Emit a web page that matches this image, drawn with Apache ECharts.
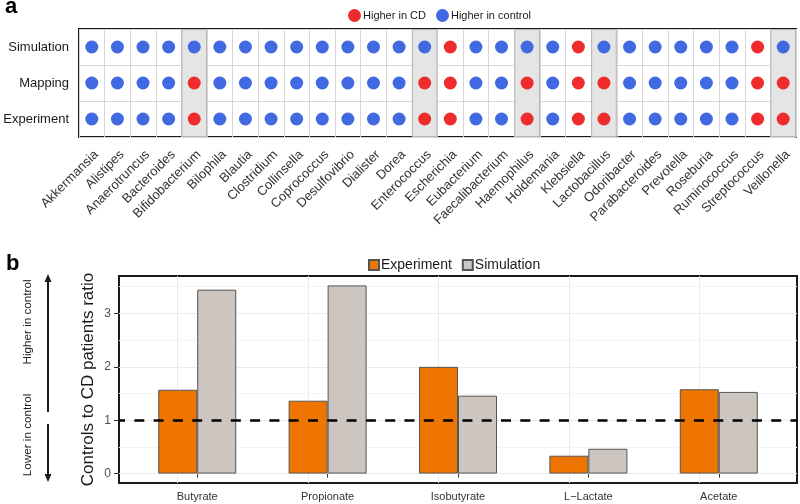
<!DOCTYPE html>
<html>
<head>
<meta charset="utf-8">
<script src="https://cdn.jsdelivr.net/npm/echarts@6/dist/echarts.min.js"></script>
<style>html,body{margin:0;padding:0;background:#fff}#c{width:800px;height:504px}</style>
</head>
<body>
<div id="c"></div>
<script>
// ---- Panel a data (1 = Higher in CD, 0 = Higher in control) ----
const species = ['Akkermansia','Alistipes','Anaerotruncus','Bacteroides','Bifidobacterium','Bilophila','Blautia','Clostridium','Collinsella','Coprococcus','Desulfovibrio','Dialister','Dorea','Enterococcus','Escherichia','Eubacterium','Faecalibacterium','Haemophilus','Holdemania','Klebsiella','Lactobacillus','Odoribacter','Parabacteroides','Prevotella','Roseburia','Ruminococcus','Streptococcus','Veillonella'];
const simulation = [0,0,0,0,0,0,0,0,0,0,0,0,0,0,1,0,0,0,0,1,0,0,0,0,0,0,1,0];
const mapping    = [0,0,0,0,1,0,0,0,0,0,0,0,0,1,1,0,0,1,0,1,1,0,0,0,0,0,1,1];
const experiment = [0,0,0,0,1,0,0,0,0,0,0,0,0,1,1,0,0,1,0,1,1,0,0,0,0,0,1,1];
const rowNames = ['Experiment','Mapping','Simulation'];
const legendA = ['Higher in CD','Higher in control'];

// ---- Panel b data ----
const metabolites = ['Butyrate','Propionate','Isobutyrate','L\u2212Lactate','Acetate'];
const experimentRatio = [1.57, 1.365, 2.0, 0.335, 1.58];
const simulationRatio = [3.445, 3.525, 1.46, 0.465, 1.53];
const yTicks = [0, 1, 2, 3];
const yMinorTicks = [0.5, 1.5, 2.5, 3.5];
const refLine = 1;

// ---- build ----
const rowsData = {Experiment: experiment, Mapping: mapping, Simulation: simulation};
const redPts = [], bluePts = [];
rowNames.forEach(r => rowsData[r].forEach((v, i) => (v ? redPts : bluePts).push([species[i], r])));
const mismatch = species.map((s, i) => simulation[i] !== experiment[i] ? 1 : '-');
const xPos = metabolites.map((m, i) => i + 1);
const expData = experimentRatio.map((v, i) => [xPos[i], v]);
const simData = simulationRatio.map((v, i) => [xPos[i], v]);
const yMin = -0.05 * Math.max(...simulationRatio);
const yMax = Math.max(...simulationRatio) * 1.05;

const FF = 'Liberation Sans';
const chart = echarts.init(document.getElementById('c'), null, {renderer: 'canvas'});
const option = {
  animation: false,
  textStyle: {fontFamily: FF},
  grid: [
    {left: 79, right: 4, top: 29, bottom: 367, show: true, borderColor: '#1a1a1a', borderWidth: 2},
    {left: 119, right: 3, top: 276, bottom: 21, show: true, borderColor: '#1a1a1a', borderWidth: 2}
  ],
  legend: [
    {data: legendA, left: 343, top: 4, icon: 'circle', itemWidth: 13, itemHeight: 13, itemGap: 10,
     textStyle: {fontSize: 11, color: '#1a1a1a', fontFamily: FF, padding: [0, 0, 0, -3]}},
    {data: ['Experiment', 'Simulation'], left: 363, top: 253, icon: 'rect', itemWidth: 10, itemHeight: 10, itemGap: 10,
     textStyle: {fontSize: 14, color: '#1a1a1a', fontFamily: FF, padding: [0, 0, 0, -3]}}
  ],
  xAxis: [
    {type: 'category', gridIndex: 0, data: species,
     axisLine: {show: false}, axisTick: {show: false},
     axisLabel: {rotate: 45, interval: 0, fontSize: 13, color: '#333', margin: 11, align: 'right', verticalAlign: 'top', fontFamily: FF},
     splitLine: {show: true, interval: 0, lineStyle: {color: '#d6d6d6', width: 1}}},
    {type: 'value', gridIndex: 1, min: 0.4, max: 5.6,
     axisLine: {show: false}, splitLine: {show: false},
     axisTick: {show: true, customValues: xPos, length: 4, lineStyle: {color: '#333'}},
     axisLabel: {customValues: xPos, formatter: v => metabolites[Math.round(v) - 1], fontSize: 11, color: '#333', margin: 8, fontFamily: FF}}
  ],
  yAxis: [
    {type: 'category', gridIndex: 0, data: rowNames,
     axisLine: {show: false}, axisTick: {show: false},
     axisLabel: {fontSize: 13, color: '#1a1a1a', margin: 10, fontFamily: FF},
     splitLine: {show: true, interval: 0, lineStyle: {color: '#d6d6d6', width: 1}}},
    {type: 'value', gridIndex: 0, min: 0, max: 1, show: false},
    {type: 'value', gridIndex: 1, min: yMin, max: yMax,
     axisLine: {show: false}, splitLine: {show: false},
     axisTick: {show: true, customValues: yTicks, length: 5, lineStyle: {color: '#333'}},
     axisLabel: {customValues: yTicks, fontSize: 12, color: '#4d4d4d', margin: 8, fontFamily: FF},
     name: 'Controls to CD patients ratio', nameLocation: 'middle', nameGap: 22, nameMoveOverlap: false,
     nameTextStyle: {fontSize: 17, color: '#1a1a1a', fontFamily: FF}}
  ],
  series: [
    {type: 'bar', name: 'mismatch', xAxisIndex: 0, yAxisIndex: 1, data: mismatch, barWidth: '100%', silent: true, z: 1,
     itemStyle: {color: '#e5e5e5', borderColor: '#b5b5b5', borderWidth: 1}},
    {type: 'scatter', name: legendA[0], xAxisIndex: 0, yAxisIndex: 0, data: redPts, symbolSize: 13, z: 3,
     itemStyle: {color: '#EE2C2C', opacity: 1}},
    {type: 'scatter', name: legendA[1], xAxisIndex: 0, yAxisIndex: 0, data: bluePts, symbolSize: 13, z: 3,
     itemStyle: {color: '#4169E1', opacity: 1}},
    {type: 'bar', name: 'Experiment', xAxisIndex: 1, yAxisIndex: 2, data: expData, barWidth: 39, barGap: '0%', z: 3,
     itemStyle: {color: '#EE7600', borderColor: '#555', borderWidth: 1},
     markLine: {z: 1, silent: true, symbol: ['none', 'none'], label: {show: false},
       data: [
         ...yTicks.map(v => ({yAxis: v, lineStyle: {color: '#ebebeb', width: 1, type: 'solid'}})),
         ...yMinorTicks.map(v => ({yAxis: v, lineStyle: {color: '#f4f4f4', width: 1, type: 'solid'}})),
         ...xPos.map(v => ({xAxis: v, lineStyle: {color: '#ebebeb', width: 1, type: 'solid'}}))
       ]}},
    {type: 'bar', name: 'Simulation', xAxisIndex: 1, yAxisIndex: 2, data: simData, barWidth: 39, barGap: '0%', z: 3,
     itemStyle: {color: '#CDC5BF', borderColor: '#555', borderWidth: 1},
     markLine: {z: 5, silent: true, symbol: ['none', 'none'], label: {show: false},
       data: [{yAxis: refLine, lineStyle: {color: '#000', width: 2.6, type: [10, 9.3], dashOffset: 4}}]}}
  ],
  graphic: [
    {type: 'text', left: 5, top: -4, style: {text: 'a', font: 'bold 22px "Liberation Sans"', fill: '#000'}},
    {type: 'text', left: 6, top: 253, style: {text: 'b', font: 'bold 22px "Liberation Sans"', fill: '#000'}},
    {type: 'text', x: 28, y: 322, rotation: Math.PI / 2,
     style: {text: 'Higher in control', font: '11.7px "Liberation Sans"', fill: '#1a1a1a', align: 'center', verticalAlign: 'middle'}},
    {type: 'text', x: 28, y: 435, rotation: Math.PI / 2,
     style: {text: 'Lower in control', font: '11.7px "Liberation Sans"', fill: '#1a1a1a', align: 'center', verticalAlign: 'middle'}},
    {type: 'line', shape: {x1: 48, y1: 280, x2: 48, y2: 412}, style: {stroke: '#1a1a1a', lineWidth: 2}},
    {type: 'polygon', shape: {points: [[48, 274], [44.5, 282], [51.5, 282]]}, style: {fill: '#1a1a1a'}},
    {type: 'line', shape: {x1: 48, y1: 424, x2: 48, y2: 476}, style: {stroke: '#1a1a1a', lineWidth: 2}},
    {type: 'polygon', shape: {points: [[48, 482], [44.5, 474], [51.5, 474]]}, style: {fill: '#1a1a1a'}}
  ]
};
chart.setOption(option);
</script>
</body>
</html>
